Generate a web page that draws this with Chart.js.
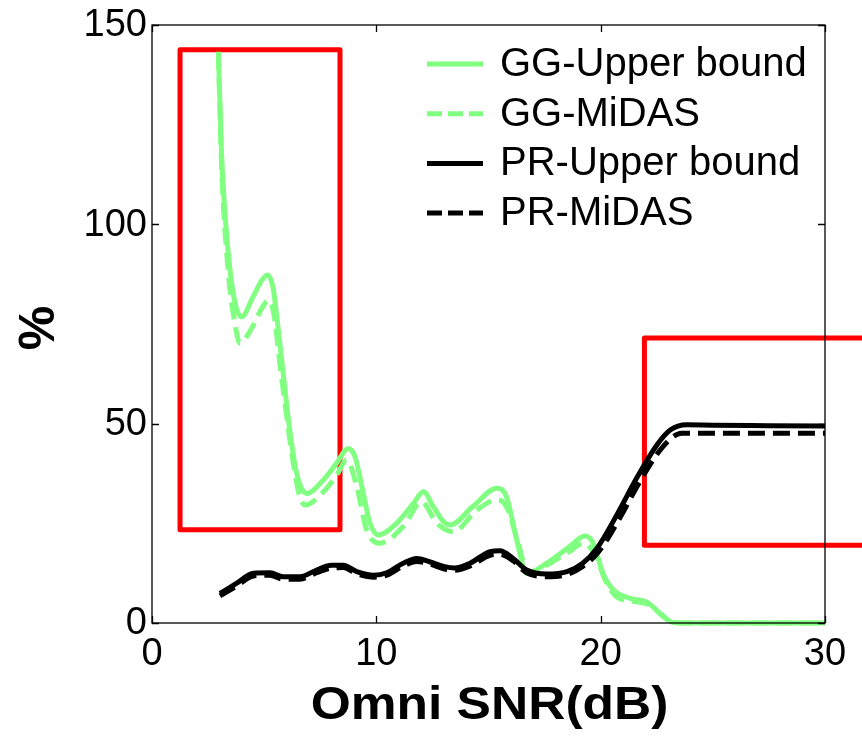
<!DOCTYPE html>
<html>
<head>
<meta charset="utf-8">
<script src="https://cdn.jsdelivr.net/npm/chart.js@4"></script>
<style>
  body { margin: 0; background: #fff; }
  #wrap { width: 862px; height: 736px; }
</style>
</head>
<body>
<div id="wrap"><canvas id="snrChart" width="862" height="736"></canvas></div>
<script>
// Axis ticks
const xTicks = [0, 10, 20, 30];
const yTicks = [0, 50, 100, 150];

// GG - upper bound
const ggUpperX = [2.96, 3.1, 3.4, 3.7, 4.0, 4.5, 4.9, 5.15, 5.4, 5.6, 5.9, 6.15, 6.45, 6.9, 7.64, 8.23, 8.75, 9.05, 9.42, 9.72, 10.1, 10.9, 11.65, 12.1, 12.54, 13.0, 13.29, 14.3, 15.37, 15.8, 16.26, 16.7, 17.6, 18.6, 19.3, 19.67, 20.1, 20.57, 21.3, 22.05, 22.65, 23.24, 24, 26, 28, 30];
const ggUpperY = [143.3, 117.8, 92.8, 80.3, 76.8, 81.8, 86, 87.3, 84, 75, 60, 48, 37.5, 32.5, 35.9, 40.1, 43.8, 41.7, 32.5, 25, 22.1, 25, 30, 32.9, 29.2, 25.4, 24.6, 29.2, 33.8, 31.7, 20.8, 12.5, 15, 19.1, 21.8, 20, 12.5, 8.3, 6.2, 5.3, 2.4, 0.1, 0, 0, 0, 0];

// GG - MiDAS
const ggMidasX = [2.96, 3.1, 3.4, 3.7, 3.92, 4.4, 4.9, 5.2, 5.45, 5.7, 6.0, 6.3, 6.55, 6.82, 7.64, 8.23, 8.68, 9.13, 9.57, 10.16, 11.2, 12.02, 12.7, 13.43, 14.48, 15.37, 15.8, 16.33, 16.76, 17.45, 18.6, 19.23, 19.8, 20.2, 20.7, 21.6, 22.2, 22.8, 23.24, 24, 26, 28, 30];
const ggMidasY = [143, 115, 88, 75, 70.2, 73.5, 79, 81, 77, 65, 52, 40, 32.5, 29.6, 32.9, 37.1, 40.9, 34.2, 23.3, 20, 24.2, 30.4, 25, 22.9, 28.3, 30.9, 29.2, 20, 12.5, 14.1, 17.9, 20, 16.6, 10.8, 6.6, 5.3, 4.5, 1.6, 0.1, 0, 0, 0, 0];

// PR - upper bound
const prUpperX = [3.03, 3.78, 4.52, 5.26, 5.85, 6.6, 7.34, 8.0, 8.53, 9.13, 9.87, 10.46, 11.2, 11.8, 12.4, 13.0, 13.5, 14.18, 15.07, 15.5, 16.1, 16.7, 17.6, 18.5, 19.2, 19.83, 20.72, 21.6, 22.5, 23.1, 23.84, 25, 27.5, 30];
const prUpperY = [7.4, 10, 12.5, 12.6, 11.6, 11.6, 13.3, 14.5, 14.5, 12.9, 12, 12.6, 15, 16.2, 15.3, 14.2, 13.8, 15, 17.9, 18.1, 16.2, 13.3, 12.3, 12.9, 15, 18.7, 27.1, 36.3, 44.6, 48.4, 49.7, 49.6, 49.5, 49.4];

// PR - MiDAS
const prMidasX = [3.03, 3.78, 4.52, 5.26, 5.85, 6.6, 7.34, 8.0, 8.53, 9.13, 9.87, 10.46, 11.2, 11.8, 12.4, 13.0, 13.5, 14.18, 15.07, 15.5, 16.1, 16.7, 17.6, 18.5, 19.2, 19.9, 20.8, 21.7, 22.6, 23.2, 23.6, 25, 27.5, 30];
const prMidasY = [6.8, 9.3, 11.8, 12, 11, 11, 12.6, 13.8, 13.9, 12.3, 11.5, 12, 14.3, 15.4, 14.8, 13.6, 13.2, 14.3, 17, 17.2, 15.6, 12.6, 11.6, 12.2, 14.2, 17.8, 25.8, 35, 43, 46.6, 47.6, 47.6, 47.6, 47.6];

// highlighted regions, in data units [x0, x1, y0, y1]
const highlightBoxes = [
    [1.25, 8.38, 23.4, 143.8],
    [21.95, 32, 19.5, 71.5]
];

const GREEN = '#80ff80';
const FONT = '"Liberation Sans", Arial, sans-serif';

function toPoints(xs, ys) {
    return xs.map((x, i) => ({ x: x, y: ys[i] }));
}

const seriesDefs = [
    { label: 'GG-Upper bound', xs: ggUpperX, ys: ggUpperY, color: GREEN, dash: [], order: 4 },
    { label: 'GG-MiDAS', xs: ggMidasX, ys: ggMidasY, color: GREEN, dash: [17, 8], order: 3 },
    { label: 'PR-Upper bound', xs: prUpperX, ys: prUpperY, color: '#000000', dash: [], order: 2 },
    { label: 'PR-MiDAS', xs: prMidasX, ys: prMidasY, color: '#000000', dash: [17, 8], order: 1 }
];

// red rectangles behind the curves
const boxesPlugin = {
    id: 'boxes',
    beforeDatasetsDraw(chart) {
        const ctx = chart.ctx;
        const xs = chart.scales.x, ys = chart.scales.y;
        ctx.save();
        ctx.strokeStyle = '#ff0000';
        ctx.lineWidth = 5;
        ctx.lineJoin = 'round';
        highlightBoxes.forEach(b => {
            const x0 = xs.getPixelForValue(b[0]), x1 = xs.getPixelForValue(b[1]);
            const y0 = ys.getPixelForValue(b[2]), y1 = ys.getPixelForValue(b[3]);
            ctx.strokeRect(x0, y1, x1 - x0, y0 - y1);
        });
        ctx.restore();
    }
};

// axes box, inner ticks, labels, legend
const framePlugin = {
    id: 'frame',
    afterDraw(chart) {
        const ctx = chart.ctx;
        const a = chart.chartArea;
        const xs = chart.scales.x, ys = chart.scales.y;
        ctx.save();

        ctx.strokeStyle = '#000';
        ctx.lineWidth = 1.3;
        ctx.strokeRect(a.left, a.top, a.right - a.left, a.bottom - a.top);

        ctx.beginPath();
        xTicks.forEach(v => {
            const px = Math.round(xs.getPixelForValue(v)) + 0.5;
            ctx.moveTo(px, a.bottom); ctx.lineTo(px, a.bottom - 7);
            ctx.moveTo(px, a.top); ctx.lineTo(px, a.top + 7);
        });
        yTicks.forEach(v => {
            const py = Math.round(ys.getPixelForValue(v)) + 0.5;
            ctx.moveTo(a.left, py); ctx.lineTo(a.left + 7, py);
            ctx.moveTo(a.right, py); ctx.lineTo(a.right - 7, py);
        });
        ctx.stroke();

        ctx.fillStyle = '#000';
        ctx.font = '38px ' + FONT;
        ctx.textAlign = 'center';
        ctx.textBaseline = 'alphabetic';
        xTicks.forEach(v => ctx.fillText(String(v), xs.getPixelForValue(v), 665));
        ctx.textAlign = 'right';
        ctx.textBaseline = 'middle';
        yTicks.forEach(v => ctx.fillText(String(v), a.left - 5, ys.getPixelForValue(v) + 1));

        // x title
        ctx.save();
        ctx.font = 'bold 46px ' + FONT;
        ctx.textAlign = 'center';
        ctx.textBaseline = 'alphabetic';
        ctx.translate((a.left + a.right) / 2 + 1, 719);
        ctx.scale(1.12, 1);
        ctx.fillText('Omni SNR(dB)', 0, 0);
        ctx.restore();

        // y title
        ctx.save();
        ctx.font = 'bold 50px ' + FONT;
        ctx.textAlign = 'center';
        ctx.textBaseline = 'middle';
        ctx.translate(40, 328);
        ctx.rotate(-Math.PI / 2);
        ctx.fillText('%', 0, 0);
        ctx.restore();

        // legend
        ctx.font = '40px ' + FONT;
        ctx.textAlign = 'left';
        ctx.textBaseline = 'middle';
        seriesDefs.forEach((s, i) => {
            const rowY = 64 + i * 49.7;
            ctx.strokeStyle = s.color;
            ctx.lineWidth = 5;
            ctx.setLineDash(s.dash.length ? [15, 6] : []);
            ctx.beginPath();
            ctx.moveTo(427, rowY);
            ctx.lineTo(483, rowY);
            ctx.stroke();
            ctx.setLineDash([]);
            ctx.fillStyle = '#000';
            ctx.fillText(s.label, 500, rowY + 1);
        });

        ctx.restore();
    }
};

const chartCtx = document.getElementById('snrChart').getContext('2d');
new Chart(chartCtx, {
    type: 'line',
    data: {
        datasets: seriesDefs.map(s => ({
            label: s.label,
            data: toPoints(s.xs, s.ys),
            borderColor: s.color,
            borderWidth: 5,
            borderDash: s.dash,
            borderCapStyle: 'butt',
            borderJoinStyle: 'round',
            pointRadius: 0,
            fill: false,
            cubicInterpolationMode: 'monotone',
            clip: false,
            order: s.order
        }))
    },
    options: {
        responsive: false,
        animation: false,
        layout: { padding: { left: 152, right: 37, top: 25, bottom: 113 } },
        plugins: {
            legend: { display: false },
            tooltip: { enabled: false }
        },
        scales: {
            x: { type: 'linear', min: 0, max: 30, display: false },
            y: { type: 'linear', min: 0, max: 150, display: false }
        }
    },
    plugins: [boxesPlugin, framePlugin]
});
</script>
</body>
</html>
